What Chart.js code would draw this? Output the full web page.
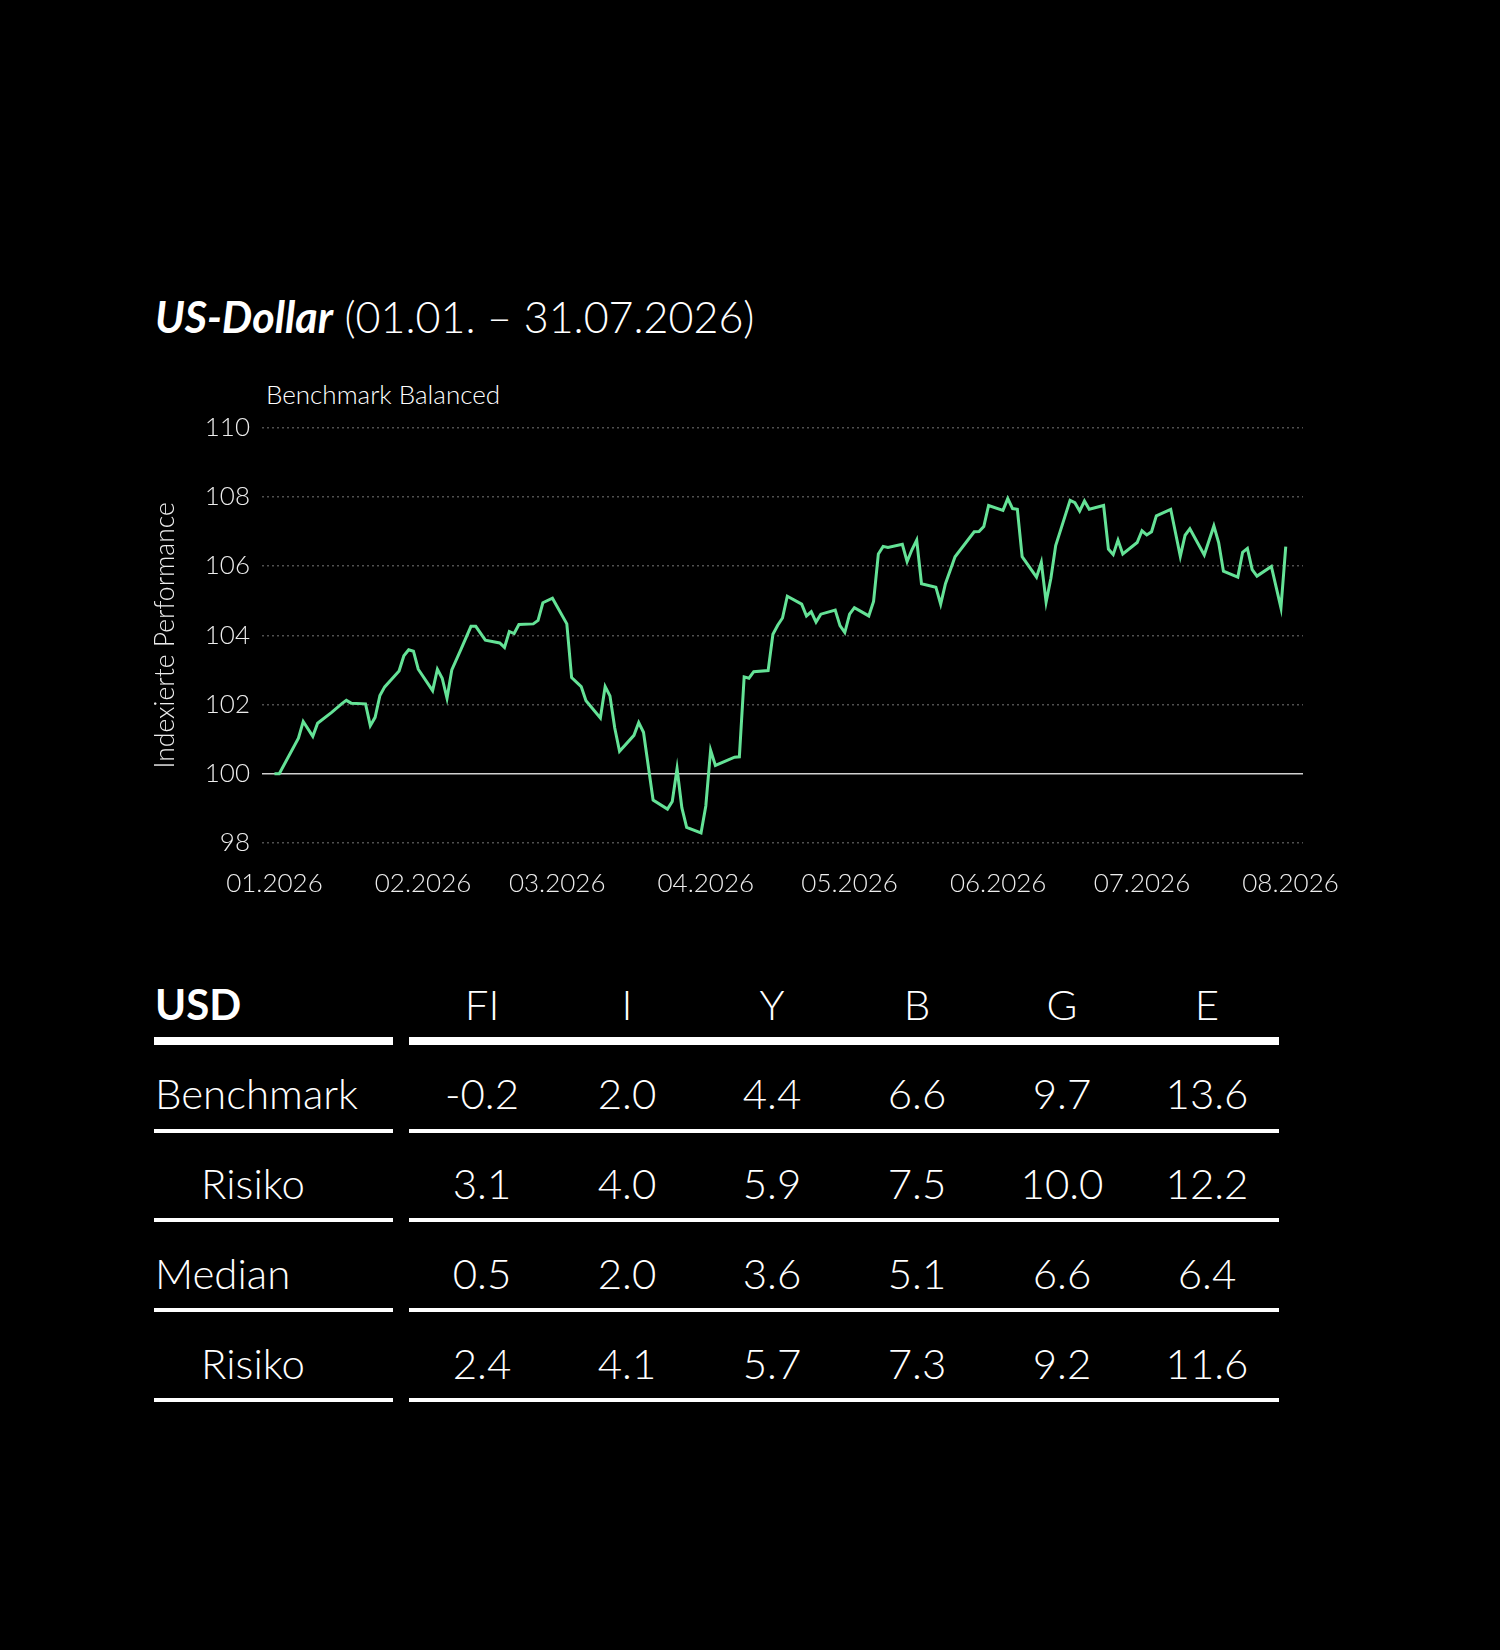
<!DOCTYPE html>
<html>
<head>
<meta charset="utf-8">
<script src="https://cdn.jsdelivr.net/npm/chart.js@4.4.1/dist/chart.umd.min.js"></script>
<style>
  body { margin: 0; background: #000; width: 1500px; height: 1650px; position: relative; overflow: hidden;
         font-family: Lato, "Open Sans", sans-serif; color: #fff; }
  .t { position: absolute; white-space: nowrap; line-height: 1; font-weight: 300; }
  .rule { position: absolute; background: #fff; }
  #chartBox { position: absolute; left: 140px; top: 400px; width: 1260px; height: 503px; }
</style>
</head>
<body>

<div class="t" style="left:155px; top:295px; font-size:43px;"><span style="font-weight:700; font-style:italic;">US-Dollar</span> (01.01. – 31.07.2026)</div>
<div class="t" style="left:266px; top:381px; font-size:26px;">Benchmark Balanced</div>

<div id="chartBox"><canvas id="perf"></canvas></div>
<div id="table"></div>

<script>
// Indexed performance, Benchmark Balanced (USD), start = 100
var dates = [
  "2026-01-01", "2026-01-02", "2026-01-06", "2026-01-07", "2026-01-09", "2026-01-10", "2026-01-13",
  "2026-01-15", "2026-01-16", "2026-01-17", "2026-01-20", "2026-01-21", "2026-01-22", "2026-01-23",
  "2026-01-24", "2026-01-27", "2026-01-28", "2026-01-29", "2026-01-30", "2026-01-31",
  "2026-02-03", "2026-02-04", "2026-02-05", "2026-02-06", "2026-02-07", "2026-02-09", "2026-02-11",
  "2026-02-12", "2026-02-14", "2026-02-17", "2026-02-18", "2026-02-19", "2026-02-20", "2026-02-21",
  "2026-02-24", "2026-02-25", "2026-02-26", "2026-02-28",
  "2026-03-03", "2026-03-04", "2026-03-06", "2026-03-07", "2026-03-10", "2026-03-11", "2026-03-12",
  "2026-03-13", "2026-03-14", "2026-03-17", "2026-03-18", "2026-03-19", "2026-03-21", "2026-03-24",
  "2026-03-25", "2026-03-26", "2026-03-27", "2026-03-28", "2026-03-31",
  "2026-04-01", "2026-04-02", "2026-04-03", "2026-04-07", "2026-04-08", "2026-04-09", "2026-04-10",
  "2026-04-11", "2026-04-14", "2026-04-15", "2026-04-16", "2026-04-17", "2026-04-18", "2026-04-21",
  "2026-04-22", "2026-04-23", "2026-04-24", "2026-04-25", "2026-04-28", "2026-04-29", "2026-04-30",
  "2026-05-01", "2026-05-02", "2026-05-05", "2026-05-06", "2026-05-07", "2026-05-08", "2026-05-09",
  "2026-05-12", "2026-05-13", "2026-05-14", "2026-05-15", "2026-05-16", "2026-05-19", "2026-05-20",
  "2026-05-21", "2026-05-23", "2026-05-27", "2026-05-28", "2026-05-29", "2026-05-30",
  "2026-06-02", "2026-06-03", "2026-06-04", "2026-06-05", "2026-06-06", "2026-06-09", "2026-06-10",
  "2026-06-11", "2026-06-12", "2026-06-13", "2026-06-16", "2026-06-17", "2026-06-18", "2026-06-19",
  "2026-06-20", "2026-06-23", "2026-06-24", "2026-06-25", "2026-06-26", "2026-06-27", "2026-06-30",
  "2026-07-01", "2026-07-02", "2026-07-03", "2026-07-04", "2026-07-07", "2026-07-09", "2026-07-10",
  "2026-07-11", "2026-07-14", "2026-07-16", "2026-07-17", "2026-07-18", "2026-07-21", "2026-07-22",
  "2026-07-23", "2026-07-24", "2026-07-25", "2026-07-28", "2026-07-30", "2026-07-31"
];
var benchmark = [
  100.00, 100.00, 101.03, 101.51, 101.08, 101.46, 101.78,
  102.02, 102.12, 102.04, 102.02, 101.39, 101.63, 102.26,
  102.51, 102.97, 103.41, 103.58, 103.54, 103.02,
  102.40, 103.02, 102.76, 102.18, 103.00, 103.62, 104.26,
  104.26, 103.86, 103.78, 103.65, 104.11, 104.05, 104.31,
  104.33, 104.43, 104.94, 105.07,
  104.33, 102.78, 102.52, 102.11, 101.61, 102.52, 102.25,
  101.32, 100.65, 101.11, 101.48, 101.20, 99.24, 98.98,
  99.20, 100.15, 99.02, 98.45, 98.29,
  99.07, 100.68, 100.24, 100.48, 100.49, 102.80, 102.76,
  102.95, 102.98, 104.03, 104.29, 104.50, 105.13, 104.90,
  104.56, 104.68, 104.38, 104.61, 104.73, 104.28, 104.08,
  104.61, 104.80, 104.56, 104.98, 106.35, 106.57, 106.54,
  106.63, 106.13, 106.47, 106.75, 105.49, 105.39, 104.90,
  105.49, 106.27, 106.99, 107.00, 107.14, 107.75,
  107.61, 107.95, 107.66, 107.64, 106.27, 105.68, 106.11,
  104.96, 105.65, 106.59, 107.90, 107.83, 107.59, 107.88,
  107.64, 107.75, 106.49, 106.33, 106.75, 106.35, 106.68,
  107.02, 106.90, 106.99, 107.45, 107.64, 106.28, 106.89,
  107.08, 106.32, 107.16, 106.68, 105.85, 105.68, 106.40,
  106.51, 105.90, 105.71, 105.99, 104.79, 106.56
];
var baseValue = 100;
var yTicks = [98, 100, 102, 104, 106, 108, 110];
var monthDates = ["2026-01-01", "2026-02-01", "2026-03-01", "2026-04-01", "2026-05-01", "2026-06-01", "2026-07-01", "2026-08-01"];
var monthLabels = ["01.2026", "02.2026", "03.2026", "04.2026", "05.2026", "06.2026", "07.2026", "08.2026"];

// table
var tableHead = "USD";
var columns = ["FI", "I", "Y", "B", "G", "E"];
var rowLabels = ["Benchmark", "Risiko", "Median", "Risiko"];
var benchmarkReturn = ["-0.2", "2.0", "4.4", "6.6", "9.7", "13.6"];
var benchmarkRisk = ["3.1", "4.0", "5.9", "7.5", "10.0", "12.2"];
var medianReturn = ["0.5", "2.0", "3.6", "5.1", "6.6", "6.4"];
var medianRisk = ["2.4", "4.1", "5.7", "7.3", "9.2", "11.6"];

function dayOf(s) {
  var p = s.split("-");
  return (Date.UTC(+p[0], +p[1] - 1, +p[2]) - Date.UTC(2026, 0, 1)) / 86400000;
}

var points = dates.map(function (d, i) { return { x: dayOf(d), y: benchmark[i] }; });
var monthDays = monthDates.map(dayOf);

// solid line at the start value (100)
var baseLine = {
  id: "baseLine",
  beforeDatasetsDraw: function (chart) {
    var ctx = chart.ctx, area = chart.chartArea;
    var py = chart.scales.y.getPixelForValue(baseValue);
    ctx.save();
    ctx.strokeStyle = "#d0d0d0";
    ctx.lineWidth = 1.6;
    ctx.beginPath();
    ctx.moveTo(area.left, py);
    ctx.lineTo(area.right, py);
    ctx.stroke();
    ctx.restore();
  }
};

var chart = new Chart(document.getElementById("perf"), {
  type: "line",
  data: {
    datasets: [{
      label: "Benchmark Balanced",
      data: points,
      borderColor: "#64e296",
      borderWidth: 3,
      pointRadius: 0,
      tension: 0
    }]
  },
  options: {
    responsive: true,
    maintainAspectRatio: false,
    animation: false,
    layout: { padding: { top: 25, right: 97, bottom: 0, left: 0 } },
    plugins: { legend: { display: false }, tooltip: { enabled: false } },
    scales: {
      x: {
        type: "linear",
        min: -2.6,
        max: 214.6,
        afterBuildTicks: function (scale) {
          scale.ticks = monthDays.map(function (d) { return { value: d }; });
        },
        afterFit: function (scale) { scale.height = 60; },
        ticks: {
          autoSkip: false,
          maxRotation: 0,
          padding: 25,
          color: "#ededed",
          font: { family: "Lato", weight: "300", size: 26 },
          callback: function (v) { return monthLabels[monthDays.indexOf(v)]; }
        },
        grid: { display: false, drawTicks: false },
        border: { display: false }
      },
      y: {
        min: 98,
        max: 110,
        afterBuildTicks: function (scale) {
          scale.ticks = yTicks.map(function (v) { return { value: v }; });
        },
        afterFit: function (scale) { scale.width = 122; },
        ticks: {
          padding: 12,
          color: "#ededed",
          font: { family: "Lato", weight: "300", size: 26 }
        },
        grid: {
          drawTicks: false,
          lineWidth: 1.5,
          color: function (c) { return c.tick && c.tick.value === baseValue ? "rgba(0,0,0,0)" : "#505050"; }
        },
        border: { display: false, dash: [2, 3] },
        title: {
          display: true,
          text: "Indexierte Performance",
          color: "#ededed",
          padding: { top: 10, bottom: 0 },
          font: { family: "Lato", weight: "300", size: 26.5 }
        }
      }
    }
  },
  plugins: [baseLine]
});

// table below the chart
(function () {
  var box = document.getElementById("table");
  var colCenters = [482, 627, 772, 917, 1062, 1207];
  var baselines = [1020, 1109, 1199, 1289, 1379];
  var ruleY = [1041, 1131, 1220, 1310, 1400];
  var rows = [benchmarkReturn, benchmarkRisk, medianReturn, medianRisk];
  var asc = 0.887 * 42;

  function text(str, left, base, extra) {
    var d = document.createElement("div");
    d.className = "t";
    d.style.fontSize = "42px";
    d.style.top = (base - asc) + "px";
    d.style.left = left + "px";
    if (extra) for (var k in extra) d.style[k] = extra[k];
    d.textContent = str;
    box.appendChild(d);
  }
  function cell(str, center, base) {
    text(str, center - 70, base, { width: "140px", textAlign: "center" });
  }
  function rule(y, h) {
    [[154, 393], [409, 1279]].forEach(function (seg) {
      var r = document.createElement("div");
      r.className = "rule";
      r.style.left = seg[0] + "px";
      r.style.width = (seg[1] - seg[0]) + "px";
      r.style.top = (y - h / 2) + "px";
      r.style.height = h + "px";
      box.appendChild(r);
    });
  }

  text(tableHead, 155, baselines[0], { fontWeight: "700" });
  columns.forEach(function (c, i) { cell(c, colCenters[i], baselines[0]); });
  rule(ruleY[0], 8);
  rows.forEach(function (vals, r) {
    var indent = rowLabels[r] === "Risiko" ? 201 : 155;
    text(rowLabels[r], indent, baselines[r + 1]);
    vals.forEach(function (v, i) { cell(v, colCenters[i], baselines[r + 1]); });
    rule(ruleY[r + 1], 4);
  });
})();
</script>
</body>
</html>
